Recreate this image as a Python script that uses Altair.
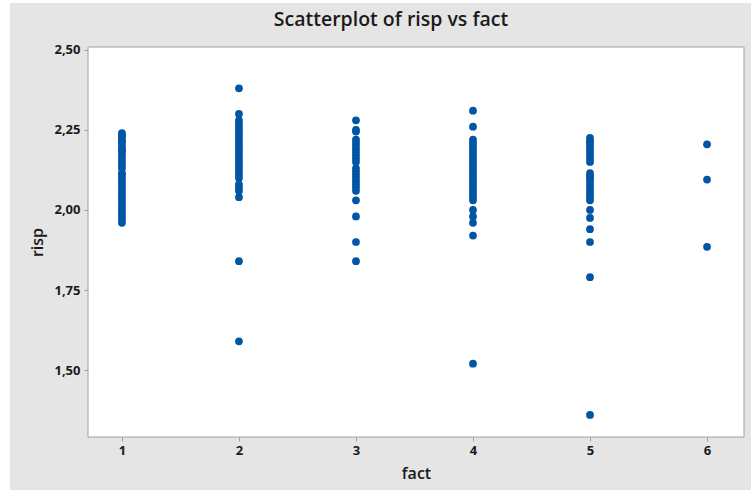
import altair as alt
import pandas as pd

# risp values, grouped by fact level
risp_f1 = [2.24, 2.235, 2.23, 2.22, 2.215, 2.21, 2.20, 2.19, 2.185, 2.18, 2.17, 2.16,
           2.15, 2.14, 2.13, 2.115, 2.11, 2.10, 2.09, 2.08, 2.07, 2.06, 2.05, 2.04,
           2.03, 2.02, 2.01, 2.00, 1.99, 1.98, 1.97, 1.96]
risp_f2 = [2.38, 2.30, 2.28, 2.27, 2.26, 2.25, 2.24, 2.23, 2.22, 2.21, 2.20, 2.19,
           2.18, 2.17, 2.16, 2.15, 2.14, 2.13, 2.12, 2.11, 2.10, 2.08, 2.07, 2.06,
           2.04, 1.84, 1.59]
risp_f3 = [2.28, 2.25, 2.245, 2.22, 2.21, 2.20, 2.19, 2.18, 2.17, 2.16, 2.15, 2.13,
           2.12, 2.11, 2.10, 2.09, 2.08, 2.07, 2.06, 2.03, 1.98, 1.90, 1.84]
risp_f4 = [2.31, 2.26, 2.22, 2.21, 2.20, 2.19, 2.18, 2.17, 2.16, 2.15, 2.14, 2.13,
           2.12, 2.11, 2.10, 2.09, 2.08, 2.07, 2.06, 2.05, 2.04, 2.03, 2.00, 1.98,
           1.96, 1.92, 1.52]
risp_f5 = [2.225, 2.215, 2.21, 2.20, 2.19, 2.18, 2.17, 2.16, 2.15, 2.115, 2.105, 2.10,
           2.09, 2.08, 2.07, 2.06, 2.05, 2.04, 2.03, 2.00, 1.975, 1.94, 1.90, 1.79, 1.36]
risp_f6 = [2.205, 2.095, 1.885]

fact_levels = [1, 2, 3, 4, 5, 6]
groups = [risp_f1, risp_f2, risp_f3, risp_f4, risp_f5, risp_f6]
x_ticks = [1, 2, 3, 4, 5, 6]
y_ticks = [1.50, 1.75, 2.00, 2.25, 2.50]
title_text = "Scatterplot of risp vs fact"

rows = []
for f, vals in zip(fact_levels, groups):
    for v in vals:
        rows.append({"fact": f, "risp": v})
df = pd.DataFrame(rows)

W, H = 656, 390
FONT = "Open Sans"
GRAY_BG = "#e5e5e5"
BORDER = "#a0a0a0"
TXT = "#1a1a1a"

base = alt.Chart(df)

bg = alt.Chart(pd.DataFrame({"a": [0]})).mark_rect(color=GRAY_BG, clip=False).encode(
    x=alt.value(-78), x2=alt.value(663), y=alt.value(-44), y2=alt.value(443)
)
plot_bg = alt.Chart(pd.DataFrame({"a": [0]})).mark_rect(
    fill="white", stroke=BORDER, strokeWidth=1, clip=False
).encode(x=alt.value(0), x2=alt.value(W), y=alt.value(0), y2=alt.value(H))

title = alt.Chart(pd.DataFrame({"t": [title_text]})).mark_text(
    font=FONT, fontSize=19.5, fontWeight=600, color=TXT, align="center",
    baseline="middle", clip=False
).encode(text="t:N", x=alt.value(303), y=alt.value(-27))

label_expr = "replace(format(datum.value, '.2f'), '.', ',')"

points = base.mark_circle(size=60, color="#0055a5", opacity=1).encode(
    x=alt.X("fact:Q",
            scale=alt.Scale(domain=[0.71, 6.316], nice=False, zero=False),
            axis=alt.Axis(values=x_ticks, title="fact", format="d", grid=False,
                          domain=False, tickColor=BORDER, tickSize=4, zindex=2,
                          labelFont=FONT, labelFontSize=13, labelFontWeight="bold",
                          labelColor=TXT, labelPadding=3,
                          titleFont=FONT, titleFontSize=16, titleFontWeight=600,
                          titleColor=TXT, titlePadding=8)),
    y=alt.Y("risp:Q",
            scale=alt.Scale(domain=[1.291, 2.509], nice=False, zero=False),
            axis=alt.Axis(values=y_ticks, title="risp", labelExpr=label_expr, grid=False,
                          domain=False, tickColor=BORDER, tickSize=4, zindex=2,
                          labelFont=FONT, labelFontSize=13, labelFontWeight="bold",
                          labelColor=TXT, labelPadding=4,
                          titleFont=FONT, titleFontSize=16, titleFontWeight=600,
                          titleColor=TXT, titlePadding=8)),
)

chart = alt.layer(bg, plot_bg, title, points).properties(
    width=W, height=H,
    autosize=alt.AutoSizeParams(type="none"),
    padding={"left": 88, "top": 47, "right": 10, "bottom": 56},
    background="white",
).configure_view(stroke=None)

chart.save("out.html", embed_options={"renderer": "svg", "actions": False})
